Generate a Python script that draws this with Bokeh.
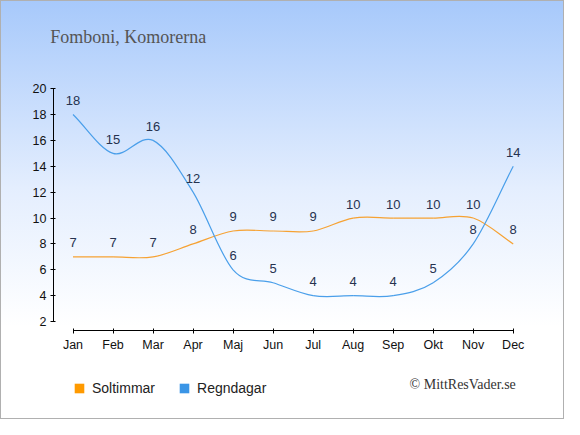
from bokeh.plotting import figure
from bokeh.models import Range1d, FixedTicker, Label, Legend, LegendItem, ColumnDataSource
from bokeh.embed import file_html
from bokeh.resources import INLINE
from bokeh.core.properties import value

# ---- data ----
months = ["Jan", "Feb", "Mar", "Apr", "Maj", "Jun", "Jul", "Aug", "Sep", "Okt", "Nov", "Dec"]
soltimmar = [7, 7, 7, 8, 9, 9, 9, 10, 10, 10, 10, 8]
regndagar = [18, 15, 16, 12, 6, 5, 4, 4, 4, 5, 8, 14]
y_ticks = [2, 4, 6, 8, 10, 12, 14, 16, 18, 20]
series_names = ["Soltimmar", "Regndagar"]
title_text = "Fomboni, Komorerna"
credit_text = "\u00a9 MittResVader.se"

ORANGE_LINE = "#f6a233"
BLUE_LINE = "#4a9fea"
ORANGE_SQ = "#ff9a00"
BLUE_SQ = "#3a95e6"
LABEL_COLOR = "#26324f"
SANS = "Liberation Sans"
SERIF = "Liberation Serif"

idx = list(range(len(months)))

# frame covers the whole canvas; axes are pinned with fixed_location
p = figure(width=564, height=419, output_backend="svg", toolbar_location=None,
           x_range=Range1d(-1.7866, 12.306), y_range=Range1d(-5.643, 26.731),
           min_border=0, min_border_left=0, min_border_right=0,
           min_border_top=0, min_border_bottom=0)
p.title.visible = False
p.background_fill_color = None
p.border_fill_color = None
p.outline_line_color = None
p.styles = {"background": "linear-gradient(to bottom, #a7c9fb 0%, #e4eefe 45%, #ffffff 78%, #ffffff 100%)",
            "border": "1px solid #b0b0b0"}
p.xgrid.visible = False
p.ygrid.visible = False


def spline_source(ys):
    n = len(ys)

    def slope(i):
        if i == 0:
            return ys[1] - ys[0]
        if i == n - 1:
            return ys[-1] - ys[-2]
        return (ys[i + 1] - ys[i - 1]) / 2.0

    a = 1.0 / 3.0
    d = dict(x0=[], y0=[], x1=[], y1=[], cx0=[], cy0=[], cx1=[], cy1=[])
    for i in range(n - 1):
        d["x0"].append(idx[i]); d["y0"].append(ys[i])
        d["x1"].append(idx[i + 1]); d["y1"].append(ys[i + 1])
        d["cx0"].append(idx[i] + a); d["cy0"].append(ys[i] + a * slope(i))
        d["cx1"].append(idx[i + 1] - a); d["cy1"].append(ys[i + 1] - a * slope(i + 1))
    return ColumnDataSource(d)


p.bezier(x0="x0", y0="y0", x1="x1", y1="y1", cx0="cx0", cy0="cy0", cx1="cx1", cy1="cy1",
         source=spline_source(soltimmar), line_color=ORANGE_LINE, line_width=1.2)
p.bezier(x0="x0", y0="y0", x1="x1", y1="y1", cx0="cx0", cy0="cy0", cx1="cx1", cy1="cy1",
         source=spline_source(regndagar), line_color=BLUE_LINE, line_width=1.2)

for vals in (soltimmar, regndagar):
    p.text(x=idx, y=vals, text=[str(v) for v in vals], text_align="center",
           text_baseline="middle", y_offset=-14, text_font_size="13px",
           text_color=LABEL_COLOR, text_font=value(SANS))

# zero-size renderers used only for the square legend glyphs
sq_o = p.rect(x=idx, y=soltimmar, width=0, height=0, fill_color=ORANGE_SQ, line_color=None)
sq_b = p.rect(x=idx, y=regndagar, width=0, height=0, fill_color=BLUE_SQ, line_color=None)

legend = Legend(items=[LegendItem(label=series_names[0], renderers=[sq_o]),
                       LegendItem(label=series_names[1], renderers=[sq_b])],
                orientation="horizontal", location=(72, 24),
                glyph_width=12, glyph_height=12, label_standoff=7, spacing=23,
                padding=0, margin=0, border_line_color=None, background_fill_alpha=0,
                label_text_font=SANS, label_text_font_size="14px", label_text_color="#222222")
p.add_layout(legend, "center")

# axes
p.yaxis.ticker = FixedTicker(ticks=y_ticks)
p.yaxis.bounds = (2, 20)
p.yaxis.fixed_location = -0.487
p.xaxis.ticker = FixedTicker(ticks=idx)
p.xaxis.major_label_overrides = {i: m for i, m in zip(idx, months)}
p.xaxis.bounds = (0, 11)
p.xaxis.fixed_location = 1.304
for ax in (p.xaxis, p.yaxis):
    ax.minor_tick_line_color = None
    ax.major_tick_in = 2
    ax.major_tick_out = 3
    ax.axis_line_color = "#000000"
    ax.major_tick_line_color = "#000000"
    ax.major_label_text_font = SANS
    ax.major_label_text_font_size = "12.5px"
    ax.major_label_text_color = "#111111"
    ax.major_label_standoff = 4

p.add_layout(Label(x=-0.567, y=23.964, text=title_text, text_font=SERIF,
                   text_font_size="18px", text_color="#555555", text_baseline="alphabetic"))
p.add_layout(Label(x=11.065, y=-2.867, text=credit_text, text_font=SERIF,
                   text_font_size="14px", text_color="#333333", text_align="right",
                   text_baseline="middle"))

open("out.html", "w").write(file_html(p, INLINE))
